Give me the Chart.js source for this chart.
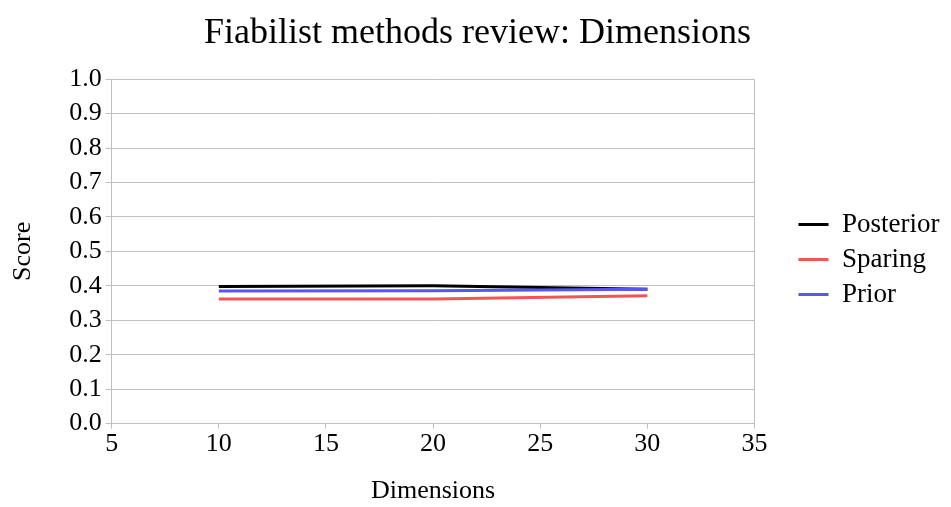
<!DOCTYPE html>
<html><head><meta charset="utf-8">
<script src="https://cdn.jsdelivr.net/npm/chart.js@4/dist/chart.umd.min.js"></script>
<style>html,body{margin:0;padding:0;background:#fff}#wrap{width:951px;height:507px}</style>
</head><body><div id="wrap"><canvas id="c" width="951" height="507"></canvas></div>
<script>
const dimensions = [10, 20, 30];
const posterior = [0.398, 0.400, 0.390];
const sparing = [0.362, 0.362, 0.371];
const prior = [0.385, 0.386, 0.390];
const seriesNames = ['Posterior', 'Sparing', 'Prior'];
const seriesColors = ['#000000', '#f05656', '#5656f0'];

const FONT = "'Liberation Serif', 'DejaVu Serif', serif";
const toPts = vals => dimensions.map((d, i) => ({x: d, y: vals[i]}));
const grid = '#bfbfbf';

new Chart(document.getElementById('c'), {
  type: 'line',
  data: {
    datasets: [posterior, sparing, prior].map((v, i) => ({
      label: seriesNames[i],
      data: toPts(v),
      borderColor: seriesColors[i],
      backgroundColor: seriesColors[i],
      borderWidth: 3,
      pointRadius: 0,
      tension: 0,
      order: 2 - i
    }))
  },
  options: {
    responsive: false,
    animation: false,
    devicePixelRatio: 1,
    layout: {padding: {left: 8, right: 4, top: 12, bottom: 0}},
    plugins: {
      title: {display: true, text: 'Fiabilist methods review: Dimensions', color: '#000',
        font: {family: FONT, size: 36, weight: 'normal'}, padding: {top: 0, bottom: 24}},
      legend: {position: 'right',
        labels: {usePointStyle: true, pointStyle: 'line', pointStyleWidth: 30, color: '#000',
          font: {family: FONT, size: 27}, padding: 8,
          sort: (a, b) => a.datasetIndex - b.datasetIndex}},
      tooltip: {enabled: false}
    },
    scales: {
      x: {type: 'linear', min: 5, max: 35,
        ticks: {stepSize: 5, autoSkip: false, color: '#000', font: {family: FONT, size: 26}, padding: 0, maxRotation: 0},
        grid: {color: c => (c.index === 0 || c.index === 6) ? grid : 'rgba(0,0,0,0)', tickColor: grid, tickLength: 5},
        border: {color: grid},
        title: {display: true, text: 'Dimensions', color: '#000', font: {family: FONT, size: 26}, padding: {top: 16, bottom: 0}}
      },
      y: {min: 0, max: 1,
        ticks: {stepSize: 0.1, autoSkip: false, color: '#000', font: {family: FONT, size: 26}, padding: 4,
          callback: v => v.toFixed(1)},
        grid: {color: grid, tickLength: 6},
        border: {color: grid},
        title: {display: true, text: 'Score', color: '#000', font: {family: FONT, size: 26}, padding: {top: 0, bottom: 26}}
      },
      yr: {position: 'right', min: 0, max: 1, display: true,
        ticks: {display: false}, grid: {display: false, drawTicks: false}, border: {display: false},
        afterFit: s => { s.width = 36; }
      }
    }
  }
});
</script></body></html>
